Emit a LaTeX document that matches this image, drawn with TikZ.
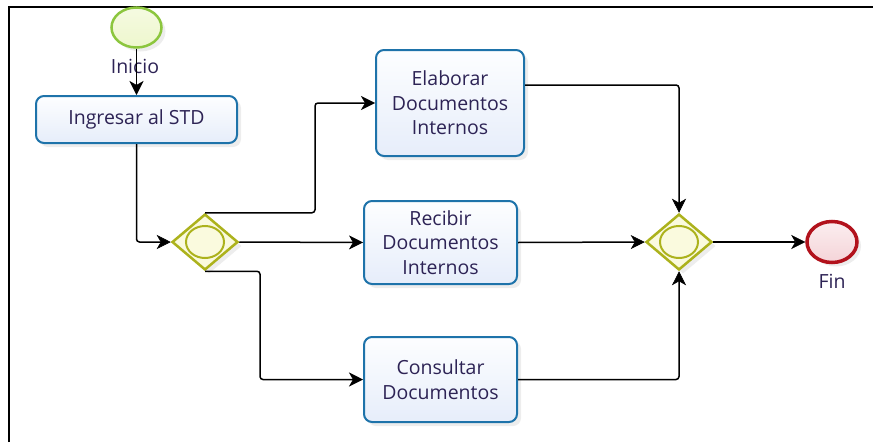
\documentclass[tikz,border=0pt]{standalone}
\usepackage{fontspec}
\setmainfont{Open Sans}
\usetikzlibrary{shapes.geometric,arrows.meta,shadows,calc}

\definecolor{taskline}{RGB}{30,115,170}
\definecolor{tasktop}{RGB}{253,254,255}
\definecolor{taskbot}{RGB}{230,237,250}
\definecolor{gateline}{RGB}{172,178,28}
\definecolor{gatefill}{RGB}{250,250,222}
\definecolor{startline}{RGB}{140,198,62}
\definecolor{startfill}{RGB}{238,247,205}
\definecolor{endline}{RGB}{178,18,28}
\definecolor{endfill}{RGB}{245,212,216}
\definecolor{txt}{RGB}{45,35,85}

\tikzset{
  softshadow/.style={drop shadow={opacity=0.14, shadow xshift=4pt, shadow yshift=-4pt}},
  task/.style={rectangle, rounded corners=8pt, draw=taskline, line width=2pt,
    top color=tasktop, bottom color=taskbot, align=center, inner sep=0pt, softshadow},
  gateway/.style={diamond, draw=gateline, line width=2.5pt, fill=gatefill,
    minimum width=66pt, minimum height=56pt, inner sep=0pt, softshadow},
  gatering/.style={ellipse, draw=gateline, line width=2pt,
    minimum width=38pt, minimum height=32pt, inner sep=0pt},
  startevent/.style={ellipse, draw=startline, line width=2.5pt,
    top color=startfill!60!white, bottom color=startfill, minimum width=50pt,
    minimum height=40pt, inner sep=0pt, softshadow},
  endevent/.style={ellipse, draw=endline, line width=3.5pt,
    top color=endfill!40!white, bottom color=endfill, minimum width=50pt,
    minimum height=41pt, inner sep=0pt, softshadow},
  flow/.style={draw=black, line width=1.5pt, rounded corners=3pt,
    -{Stealth[length=14pt,width=14pt,inset=4pt,line width=0.5pt]}},
}

\begin{document}
\begin{tikzpicture}[x=1pt, y=-1pt, font=\fontsize{19.5}{24.5}\selectfont, text=txt]
\useasboundingbox (0,0) rectangle (881,442);

% frame
\draw[line width=2pt] (8.5,442) -- (8.5,6.5) -- (873,6.5);

% events
\node[startevent] (start) at (136.5,27.5) {};
\node (inicio) at (135,66) {Inicio};
\node[endevent] (fin) at (832,242) {};
\node (finlbl) at (832,281) {Fin};

% tasks
\node[task, minimum width=201pt, minimum height=47pt] (ingresar) at (136.5,119.5) {Ingresar al STD};
\node[task, minimum width=148pt, minimum height=106pt] (elaborar) at (450,103) {Elaborar\\Documentos\\Internos};
\node[task, minimum width=153pt, minimum height=83pt] (recibir) at (440.5,242.5) {Recibir\\Documentos\\Internos};
\node[task, minimum width=153pt, minimum height=85pt] (consultar) at (440.5,379.5) {Consultar\\Documentos};

% gateways
\node[gateway] (g1) at (205,242) {};
\node[gatering] (g1c) at (g1) {};
\node[gateway] (g2) at (679,242) {};
\node[gatering] (g2c) at (g2) {};

% bend points
\coordinate (b1) at (315,0);
\coordinate (b2) at (260,0);

% sequence flows
\draw[flow] (start) -- (ingresar);
\draw[flow] (ingresar.south) |- (g1.west);
\draw[flow] (g1.north) -| (b1 |- elaborar.west) -- (elaborar.west);
\draw[flow] (g1.east) -- (recibir.west);
\draw[flow] (g1.south) -| (b2 |- consultar.west) -- (consultar.west);
\draw[flow] ($(elaborar.east)+(0,-18)$) -| (g2.north);
\draw[flow] (recibir.east) -- (g2.west);
\draw[flow] (consultar.east) -| (g2.south);
\draw[flow] (g2.east) -- (fin.west);
\end{tikzpicture}
\end{document}
